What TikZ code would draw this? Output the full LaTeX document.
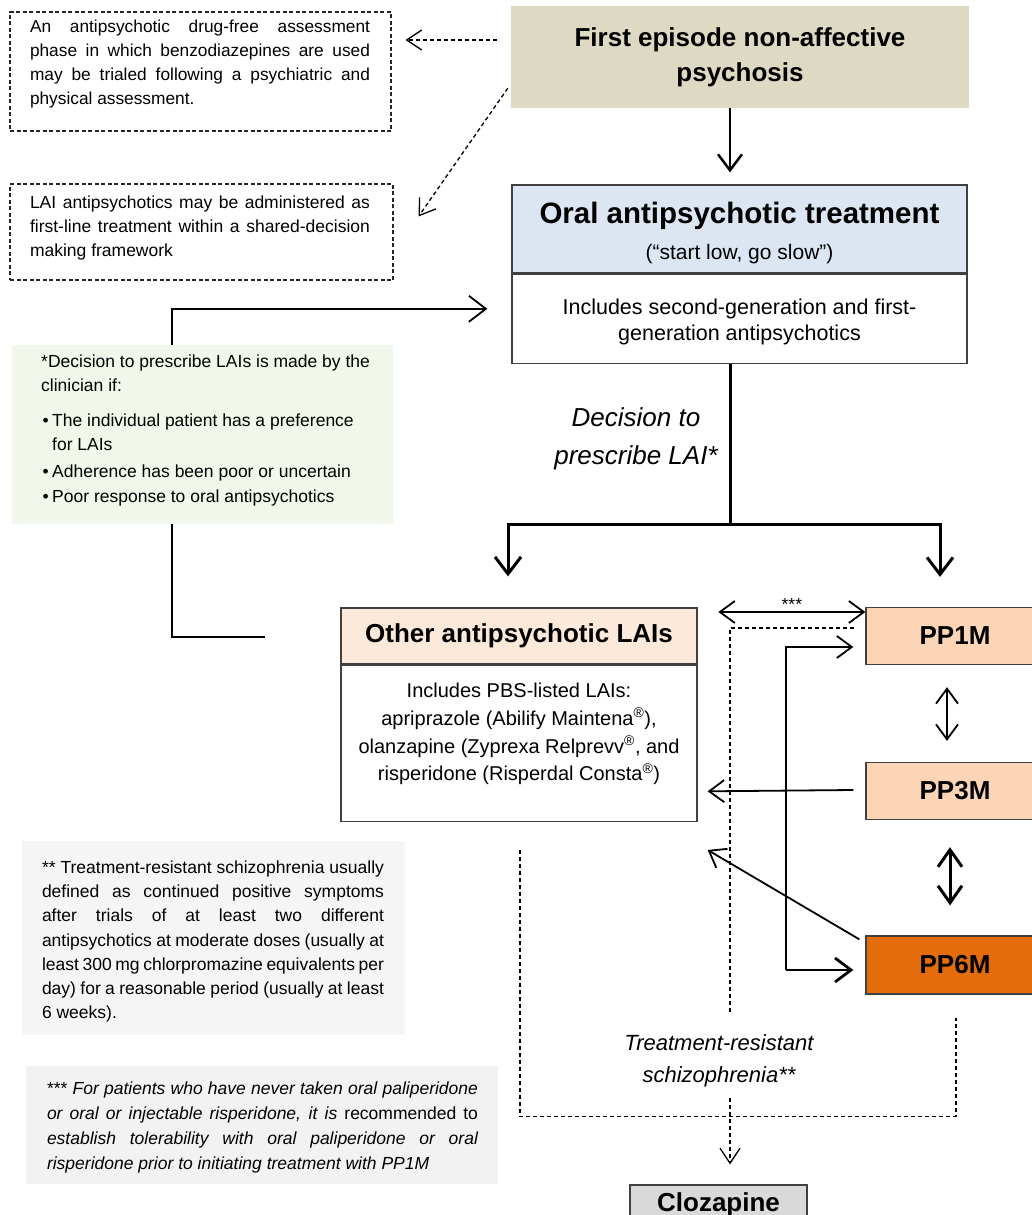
\documentclass[tikz,border=0pt]{standalone}
\usepackage{fontspec}
\setmainfont{Liberation Sans}
\usetikzlibrary{arrows.meta,calc}
\definecolor{tanbg}{HTML}{DDD9C3}
\definecolor{oralblue}{HTML}{DCE6F2}
\definecolor{laipeach}{HTML}{FDE9D9}
\definecolor{pplight}{HTML}{FBD5B5}
\definecolor{ppdark}{HTML}{E46C0A}
\definecolor{clozgray}{HTML}{D9D9D9}
\definecolor{notegreen}{HTML}{F2F7EC}
\definecolor{notegray}{HTML}{F5F5F5}
\definecolor{notegrayb}{HTML}{F2F2F2}
\definecolor{edgec}{HTML}{404040}
\newcommand\myfs[2]{\fontsize{#1pt}{#2pt}\selectfont}
\newcommand\jl[2]{\makebox[#1pt][s]{#2}}
\begin{document}
\begin{tikzpicture}[x=1pt,y=-1pt,
  every node/.style={inner sep=0pt},
  edgebox/.style={draw=edgec, line width=1.3},
  dashbox/.style={draw=black!85, line width=1.1, dash pattern=on 4pt off 2.5pt},
  conn/.style={line width=1.8, -{Straight Barb[length=15pt,width=22pt]}},
  connboth/.style={line width=1.8, {Straight Barb[length=15pt,width=22pt]}-{Straight Barb[length=15pt,width=22pt]}},
  heavy/.style={line width=3, -{Straight Barb[length=17pt,width=26pt]}},
  heavyboth/.style={line width=3, {Straight Barb[length=17pt,width=24pt]}-{Straight Barb[length=17pt,width=24pt]}},
  dashconn/.style={line width=1.3, dash pattern=on 4pt off 3pt, -{Straight Barb[length=15pt,width=20pt]}},
  dashline/.style={line width=1.3, dash pattern=on 4pt off 3pt},
  bodytxt/.style={font=\myfs{17.5}{24}},
  titletxt/.style={font=\bfseries\myfs{26}{35}},
]
\clip (0,0) rectangle (1032,1215);
\fill[white] (0,0) rectangle (1032,1215);

% top box and notes
\node[fill=tanbg, minimum width=458, minimum height=102, align=center, titletxt] (first) at (740,57) {First episode non-affective\\psychosis};

\node[dashbox, minimum width=381, minimum height=119] (note1) at (200.5,71.5) {};
\node[align=left, font=\myfs{17.3}{23.9}] (note1txt) at (200,64.3) {\jl{340}{An antipsychotic drug-free assessment}\\\jl{340}{phase in which benzodiazepines are used}\\\jl{340}{may be trialed following a psychiatric and}\\physical assessment.};

\node[dashbox, minimum width=383, minimum height=96] (note2) at (201.5,232) {};
\node[align=left, font=\myfs{17.5}{24}] (note2txt) at (200,228) {\jl{340}{LAI antipsychotics may be administered as}\\\jl{340}{first-line treatment within a shared-decision}\\making framework};

% oral treatment box
\node[edgebox, fill=oralblue, minimum width=455, minimum height=88] (oralh) at (739.5,229) {};
\node[edgebox, minimum width=455, minimum height=89, anchor=north] (oralb) at (oralh.south) {};
\node[align=center, font=\myfs{21}{36}] (oraltitle) at (739.5,233) {{\bfseries\myfs{29.5}{36}Oral antipsychotic treatment}\\(“start low, go slow”)};
\node[align=center, font=\myfs{21.5}{26}] (oraltxt) at (739.5,322) {Includes second-generation and first-\\generation antipsychotics};

% arrows from the top box
\draw[line width=2.5, -{Straight Barb[length=16pt,width=24pt]}] ($(first.south)+(-10,0)$) -- ($(oralh.north)+(-9.5,-12)$);
\draw[dashconn] ($(first.west)+(-14,-17)$) -- ($(note1.east)+(14,-31.5)$);
\draw[dashconn] ($(first.south west)+(-3,-20)$) -- ($(note2.north east)+(25,33)$);

% left connector (behind the green note)
\coordinate (lstart) at (265,637);
\draw[line width=1.8, -{Straight Barb[length=17pt,width=26pt]}] (lstart) -- ++(-93,0) |- ($(oralb.west)+(-24,-10)$);

\node[fill=notegreen, minimum width=381, minimum height=179] (green) at (202.5,434.5) {};
\node[align=left, font=\myfs{17.5}{24}, anchor=north west] (greentxt) at (41,354.5) {*Decision to prescribe LAIs is made by the\\clinician if:\\[11pt]\makebox[11pt][l]{\hspace{1.5pt}•}The individual patient has a preference\\\hspace*{11pt}for LAIs\\[3pt]\makebox[11pt][l]{\hspace{1.5pt}•}Adherence has been poor or uncertain\\[1pt]\makebox[11pt][l]{\hspace{1.5pt}•}Poor response to oral antipsychotics};

% LAI box
\node[edgebox, fill=laipeach, minimum width=356, minimum height=56, font=\bfseries\myfs{26}{30}] (laih) at (519,636) {Other antipsychotic LAIs};
\node[edgebox, minimum width=356, minimum height=156, anchor=north] (laib) at (laih.south) {};
\node[align=center, font=\myfs{20}{27.8}] (laitxt) at (519,734) {Includes PBS-listed LAIs:\\apriprazole (Abilify Maintena\textsuperscript{®}),\\olanzapine (Zyprexa Relprevv\textsuperscript{®}, and\\risperidone (Risperdal Consta\textsuperscript{®})};

% PP boxes
\node[edgebox, fill=pplight, minimum width=178, minimum height=57, font=\bfseries\myfs{26}{30}] (pp1m) at (955,636) {PP1M};
\node[edgebox, fill=pplight, minimum width=178, minimum height=57, font=\bfseries\myfs{26}{30}] (pp3m) at (955,791) {PP3M};
\node[edgebox, fill=ppdark, minimum width=178, minimum height=58, font=\bfseries\myfs{26}{30}] (pp6m) at (955,965) {PP6M};
\node[edgebox, fill=clozgray, minimum width=177, minimum height=40, font=\bfseries\myfs{26}{30}] (cloz) at (718.5,1205) {Clozapine};

% decision split
\node[align=center, font=\itshape\myfs{26}{38}] (dec) at (636,438.8) {Decision to\\prescribe LAI*};
\coordinate (split) at ($(oralb.south)+(-9.5,161)$);
\draw[line width=3] ($(oralb.south)+(-9.5,0)$) -- (split);
\draw[heavy] (split) -| ($(laih.north)+(-11,-31)$);
\draw[heavy] (split) -| ($(pp1m.north)+(-15,-30)$);

% *** arrow
\draw[connboth] ($(pp1m.west)+(-147,-24)$) -- ($(pp1m.west)+(0,-24)$) node[midway, above=1pt, font=\myfs{17.5}{20}] (stars) {***};

% treatment-resistant dashed paths
\node[align=center, font=\itshape\myfs{22}{32}] (trs) at (719,1061) {Treatment-resistant\\schizophrenia**};
\coordinate (dtop) at (730,1013);
\coordinate (dmid) at (730,1098);
\draw[dashline] ($(pp1m.west)+(-11,-8)$) -| (dtop);
\draw[dashconn] (dmid) -- ($(cloz.north)+(11.5,-20)$);
\draw[dashline] ($(laib.south)+(1,28)$) |- ($(pp6m.south)+(1,122)$) -- ($(pp6m.south)+(1,23)$);

% PP arrows
\draw[conn] ($(pp3m.west)+(-12,-1)$) -- ($(laib.east)+(10,48)$);
\draw[conn] ($(pp6m.north west)+(-6,4)$) -- ($(laib.south east)+(10,28)$);
\draw[conn] ($(pp6m.west)+(-79,5)$) |- ($(pp1m.west)+(-12,11)$);
\draw[line width=2.8, -{Straight Barb[length=16pt,width=24pt]}] ($(pp6m.west)+(-79,5)$) -- ($(pp6m.west)+(-12,5)$);
\draw[connboth] ($(pp1m.south)+(-8,22)$) -- ($(pp3m.north)+(-8,-21)$);
\draw[heavyboth] ($(pp3m.south)+(-5,27)$) -- ($(pp6m.north)+(-5,-30)$);

% footnotes
\node[fill=notegray, minimum width=383, minimum height=194] (fn2) at (213.5,938) {};
\node[align=left, font=\myfs{17.5}{24.3}] (fn2txt) at (213,941.5) {\jl{342}{** Treatment-resistant schizophrenia usually}\\\jl{342}{defined as continued positive symptoms}\\\jl{342}{after trials of at least two different}\\\jl{342}{antipsychotics at moderate doses (usually at}\\\jl{342}{least 300 mg chlorpromazine equivalents per}\\\jl{342}{day) for a reasonable period (usually at least}\\6 weeks).};

\node[fill=notegrayb, minimum width=472, minimum height=118] (fn3) at (262,1125) {};
\node[align=left, font=\myfs{17.5}{25}] (fn3txt) at (262.5,1127.7) {\jl{431}{*** \itshape For patients who have never taken oral paliperidone}\\\jl{431}{\itshape or oral or injectable risperidone, it is \upshape recommended to}\\\jl{431}{\itshape establish tolerability with oral paliperidone or oral}\\\itshape risperidone prior to initiating treatment with PP1M};
\end{tikzpicture}
\end{document}
